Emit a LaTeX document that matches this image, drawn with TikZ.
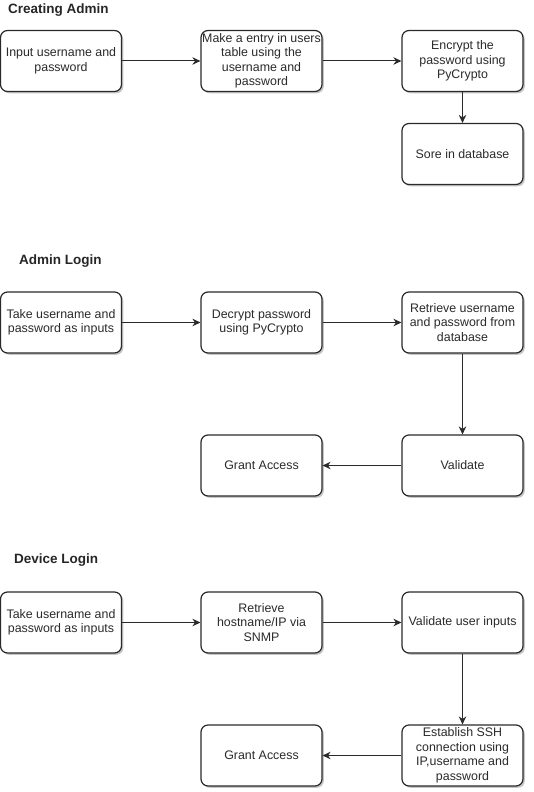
\documentclass[tikz,border=0pt]{standalone}
\usepackage{fontspec}
\setmainfont{Liberation Sans}
\usetikzlibrary{arrows.meta,shadows}
\definecolor{ln}{HTML}{2A2A2A}
\tikzset{
  box/.style={draw=ln, line width=1.2pt, fill=white, rounded corners=7pt,
    minimum width=121pt, minimum height=61pt, inner sep=0pt,
    align=center, font=\fontsize{12.4}{14.5}\selectfont, text=ln,
    drop shadow={shadow xshift=1.8pt, shadow yshift=-1.8pt, fill=black!45, opacity=0.5}},
  ttl/.style={anchor=west, font=\bfseries\fontsize{13.5}{15}\selectfont, text=black!85, inner sep=0pt},
  arr/.style={draw=ln, line width=1pt, -{Stealth[length=8pt,width=7.5pt]}}
}
\begin{document}
\begin{tikzpicture}[x=1pt,y=-1pt]
\useasboundingbox (0,0) rectangle (533,792);
% Creating Admin
\node[ttl] (t1) at (8,10) {Creating Admin};
\node[box] (a1) at (61,61) {Input username and\\password};
\node[box] (a2) at (261.5,61) {Make a entry in users\\table using the\\username and\\password};
\node[box] (a3) at (462.5,61) {Encrypt the\\password using\\PyCrypto};
\node[box] (a4) at (462.5,154) {Sore in database};
\draw[arr] (a1) -- (a2);
\draw[arr] (a2) -- (a3);
\draw[arr] (a3) -- (a4);
% Admin Login
\node[ttl] (t2) at (19,261) {Admin Login};
\node[box] (b1) at (61,322.5) {Take username and\\password as inputs};
\node[box] (b2) at (261.5,322.5) {Decrypt password\\using PyCrypto};
\node[box] (b3) at (462.5,322.5) {Retrieve username\\and password from\\database};
\node[box] (b4) at (462.5,465.5) {Validate};
\node[box] (b5) at (261.5,465.5) {Grant Access};
\draw[arr] (b1) -- (b2);
\draw[arr] (b2) -- (b3);
\draw[arr] (b3) -- (b4);
\draw[arr] (b4) -- (b5);
% Device Login
\node[ttl] (t3) at (14,560) {Device Login};
\node[box] (c1) at (61,622.5) {Take username and\\password as inputs};
\node[box] (c2) at (261.5,622.5) {Retrieve\\hostname/IP via\\SNMP};
\node[box] (c3) at (462.5,622.5) {Validate user inputs};
\node[box] (c4) at (462.5,755.5) {Establish SSH\\connection using\\IP,username and\\password};
\node[box] (c5) at (261.5,755.5) {Grant Access};
\draw[arr] (c1) -- (c2);
\draw[arr] (c2) -- (c3);
\draw[arr] (c3) -- (c4);
\draw[arr] (c4) -- (c5);
\end{tikzpicture}
\end{document}
